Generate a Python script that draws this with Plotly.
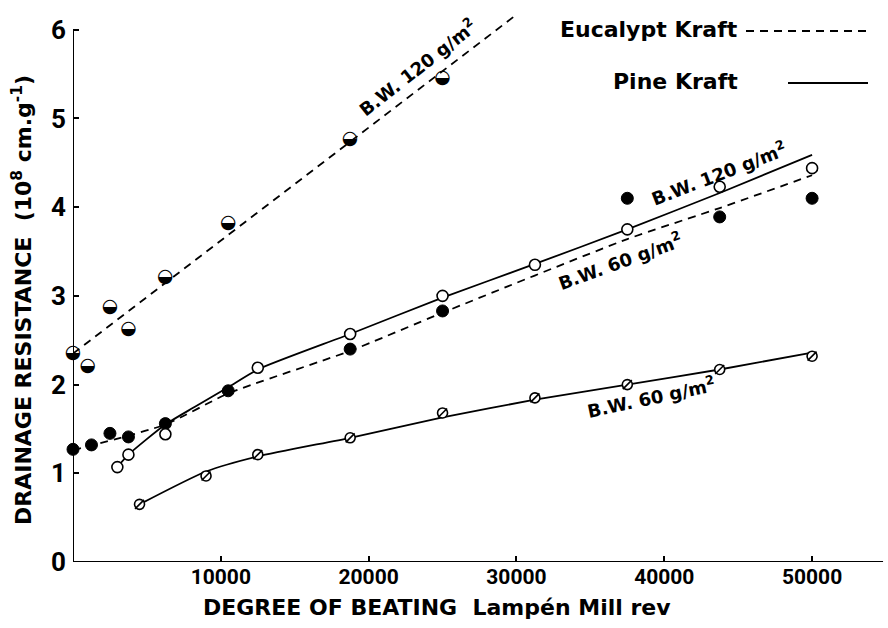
import plotly.graph_objects as go

# Degree of beating (Lampén mill revolutions) and drainage resistance (10^8 cm/g)
# Eucalypt kraft, basis weight 120 g/m2 (half-filled circles)
euc120_x = [0, 1000, 2500, 3750, 6250, 10500, 18750, 25000]
euc120_y = [2.35, 2.21, 2.87, 2.62, 3.21, 3.82, 4.77, 5.45]
euc120_line_x = [0, 30000]
euc120_line_y = [2.35, 6.17]

# Eucalypt kraft, basis weight 60 g/m2 (filled circles)
euc60_x = [0, 1250, 2500, 3750, 6250, 10500, 18750, 25000, 37500, 43750, 50000]
euc60_y = [1.27, 1.32, 1.45, 1.41, 1.56, 1.93, 2.40, 2.83, 4.10, 3.89, 4.10]
euc60_line_x = [0, 6250, 10500, 18750, 25000, 37500, 43750, 50000]
euc60_line_y = [1.26, 1.55, 1.90, 2.38, 2.81, 3.64, 3.99, 4.36]

# Pine kraft, basis weight 120 g/m2 (open circles)
pine120_x = [3000, 3750, 6250, 12500, 18750, 25000, 31250, 37500, 43750, 50000]
pine120_y = [1.07, 1.21, 1.44, 2.19, 2.57, 3.00, 3.35, 3.75, 4.23, 4.44]
pine120_line_x = [3000, 3750, 6250, 8250, 10500, 12500, 18750, 25000, 31250, 37500, 43750, 50000]
pine120_line_y = [1.07, 1.21, 1.55, 1.75, 1.97, 2.17, 2.57, 2.98, 3.36, 3.75, 4.16, 4.59]

# Pine kraft, basis weight 60 g/m2 (slashed circles)
pine60_x = [4500, 9000, 12500, 18750, 25000, 31250, 37500, 43750, 50000]
pine60_y = [0.65, 0.97, 1.21, 1.40, 1.68, 1.85, 2.00, 2.17, 2.32]
pine60_line_x = [4500, 9000, 12500, 18750, 25000, 31250, 37500, 43750, 50000]
pine60_line_y = [0.65, 1.02, 1.19, 1.40, 1.63, 1.83, 2.00, 2.17, 2.36]

x_ticks = [10000, 20000, 30000, 40000, 50000]
y_ticks = [0, 1, 2, 3, 4, 5, 6]

TICK_FONT = "Roboto"
TEXT_FONT = "DejaVu Sans"
DASH = "8px,6px"

fig = go.Figure()

def line(x, y, dash):
    fig.add_trace(go.Scatter(
        x=x, y=y, mode="lines", showlegend=False, hoverinfo="skip",
        line=dict(color="black", width=1.8, dash=dash, shape="spline", smoothing=0.6),
    ))

line(euc120_line_x, euc120_line_y, DASH)
line(euc60_line_x, euc60_line_y, DASH)
line(pine120_line_x, pine120_line_y, "solid")
line(pine60_line_x, pine60_line_y, "solid")

# filled circles
fig.add_trace(go.Scatter(
    x=euc60_x, y=euc60_y, mode="markers", showlegend=False, cliponaxis=False,
    marker=dict(symbol="circle", size=12, color="black", line=dict(color="black", width=1)),
))
# open circles
fig.add_trace(go.Scatter(
    x=pine120_x, y=pine120_y, mode="markers", showlegend=False, cliponaxis=False,
    marker=dict(symbol="circle", size=11, color="white", line=dict(color="black", width=1.6)),
))
# slashed circles
fig.add_trace(go.Scatter(
    x=pine60_x, y=pine60_y, mode="markers", showlegend=False, cliponaxis=False,
    marker=dict(symbol="circle", size=10, color="white", line=dict(color="black", width=1.6)),
))
fig.add_trace(go.Scatter(
    x=pine60_x, y=pine60_y, mode="markers", showlegend=False, cliponaxis=False,
    marker=dict(symbol="line-ne", size=9, color="black", line=dict(color="black", width=1.6)),
))
# half-filled circles
fig.add_trace(go.Scatter(
    x=euc120_x, y=euc120_y, mode="text", showlegend=False, cliponaxis=False,
    text=["\u25d2"] * len(euc120_x), textposition="middle center",
    textfont=dict(family="DejaVu Sans", size=19, color="black"),
))

# axis lines
fig.add_shape(type="line", xref="x", yref="y", x0=0, y0=0, x1=0, y1=6,
              line=dict(color="black", width=2))
fig.add_shape(type="line", xref="x", yref="y", x0=0, y0=0, x1=54800, y1=0,
              line=dict(color="black", width=2))

# curve labels
labels = [
    (23300, 5.58, "B.W. 120 g/m<sup>2</sup>", -38),
    (43700, 4.39, "B.W. 120 g/m<sup>2</sup>", -21),
    (37000, 3.39, "B.W. 60 g/m<sup>2</sup>", -20),
    (39100, 1.86, "B.W. 60 g/m<sup>2</sup>", -12),
]
for lx, ly, txt, ang in labels:
    fig.add_annotation(x=lx, y=ly, xref="x", yref="y", text=txt, textangle=ang,
                       showarrow=False,
                       font=dict(family=TEXT_FONT, size=18, color="black", weight="bold"))

W, H = 888, 628
L, R, T, B = 73, 2, 12, 66
pw, ph = W - L - R, H - T - B

def px(xp, yp):
    """Page pixel position -> paper coordinates of the plot area."""
    return (xp - L) / pw, (H - B - yp) / ph

# key
kx, ky = px(740, 30)
fig.add_annotation(x=kx, y=ky, xref="paper", yref="paper", text="Eucalypt Kraft",
                   showarrow=False, xanchor="right", yanchor="middle",
                   font=dict(family=TEXT_FONT, size=22, color="black", weight="bold"))
kx, ky = px(740, 81)
fig.add_annotation(x=kx, y=ky, xref="paper", yref="paper", text="Pine Kraft",
                   showarrow=False, xanchor="right", yanchor="middle",
                   font=dict(family=TEXT_FONT, size=22, color="black", weight="bold"))

x0, y0 = px(746, 31)
x1, _ = px(866, 31)
fig.add_shape(type="line", xref="paper", yref="paper", x0=x0, x1=x1, y0=y0, y1=y0,
              line=dict(color="black", width=1.8, dash=DASH))
x0, y0 = px(788, 83)
x1, _ = px(868, 83)
fig.add_shape(type="line", xref="paper", yref="paper", x0=x0, x1=x1, y0=y0, y1=y0,
              line=dict(color="black", width=1.8))

# axis titles
tx, ty = px(22, 300)
fig.add_annotation(x=tx, y=ty, xref="paper", yref="paper",
                   text="DRAINAGE RESISTANCE&nbsp;&nbsp;(10<sup>8</sup> cm.g<sup>-1</sup>)",
                   textangle=-90, showarrow=False, xanchor="center", yanchor="middle",
                   font=dict(family=TEXT_FONT, size=22, color="black", weight="bold"))
tx, ty = px(437, 607)
fig.add_annotation(x=tx, y=ty, xref="paper", yref="paper",
                   text="DEGREE OF BEATING&nbsp;&nbsp;Lampén Mill rev",
                   showarrow=False, xanchor="center", yanchor="middle",
                   font=dict(family=TEXT_FONT, size=22, color="black", weight="bold"))

fig.update_xaxes(range=[0, 55000], tickvals=x_ticks, ticktext=[str(v) for v in x_ticks],
                 ticks="inside", ticklen=6, tickwidth=1.5, tickcolor="black",
                 showline=False, showgrid=False, zeroline=False,
                 tickfont=dict(family=TICK_FONT, size=21, color="black", weight="bold"))
fig.update_yaxes(range=[0, 6.2], tickvals=y_ticks, ticktext=[str(v) for v in y_ticks],
                 ticks="inside", ticklen=6, tickwidth=1.5, tickcolor="black",
                 showline=False, showgrid=False, zeroline=False, ticklabelstandoff=6,
                 tickfont=dict(family=TICK_FONT, size=26, color="black", weight="bold"))

fig.update_layout(width=W, height=H, margin=dict(l=L, r=R, t=T, b=B),
                  plot_bgcolor="white", paper_bgcolor="white")

fig.write_html("out.html")
